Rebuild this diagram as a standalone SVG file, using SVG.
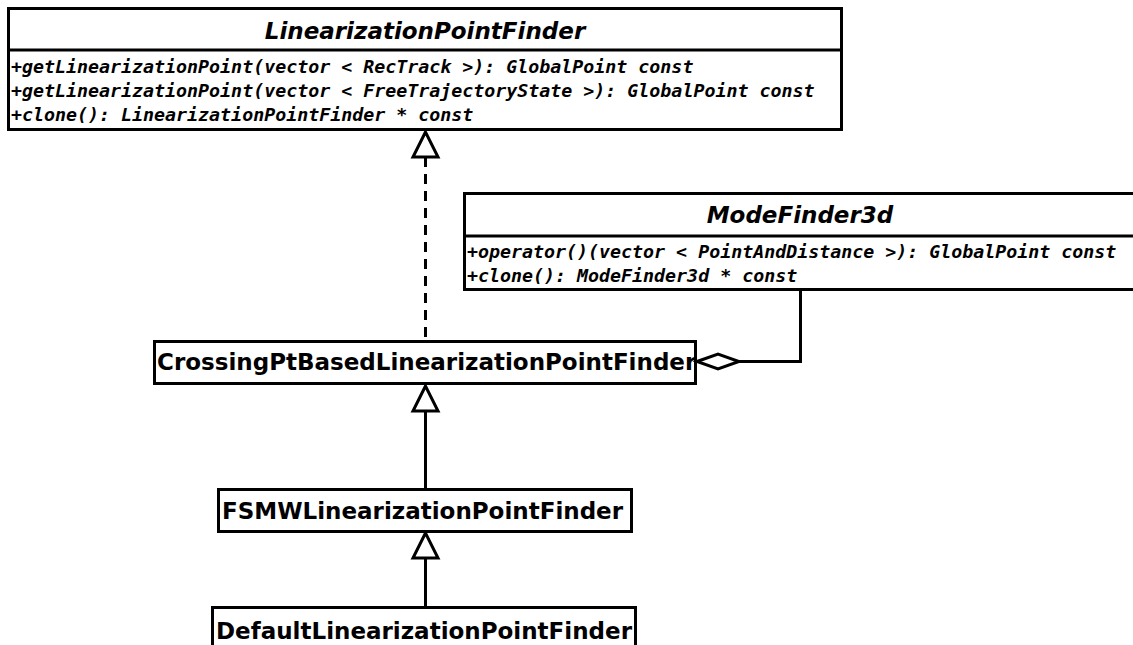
<svg xmlns="http://www.w3.org/2000/svg" width="1133" height="645" viewBox="0 0 1133 645">
<style>
.box{fill:#fff;stroke:#000;stroke-width:3}
.sep{stroke:#000;stroke-width:3}
.title{font-family:"DejaVu Sans",sans-serif;font-weight:bold;font-style:oblique;font-size:23px;text-anchor:middle}
.meth{font-family:"DejaVu Sans Mono",monospace;font-weight:bold;font-style:oblique;font-size:18.3px}
.cls{font-family:"DejaVu Sans",sans-serif;font-weight:bold;font-size:23px}
.ln{fill:none;stroke:#000;stroke-width:3}
.tri{fill:#fff;stroke:#000;stroke-width:3}
</style>
<g id="connectors">
<line class="ln" x1="425.5" y1="157" x2="425.5" y2="341" stroke-dasharray="10,7"/>
<polygon class="tri" points="425.5,132 413,157 438,157"/>
<line class="ln" x1="425.5" y1="411" x2="425.5" y2="489"/>
<polygon class="tri" points="425.5,386 413,411 438,411"/>
<line class="ln" x1="425.5" y1="557" x2="425.5" y2="607"/>
<polygon class="tri" points="425.5,533 413,558 438,558"/>
<polyline class="ln" points="800.5,290 800.5,361.5 739,361.5"/>
</g>
<g id="LinearizationPointFinder">
<rect class="box" x="8.5" y="8.5" width="833" height="121"/>
<line class="sep" x1="8.5" y1="50" x2="841.5" y2="50"/>
<text class="title" x="425" y="39">LinearizationPointFinder</text>
<text class="meth" x="11" y="73">+getLinearizationPoint(vector &lt; RecTrack &gt;): GlobalPoint const</text>
<text class="meth" x="11" y="97">+getLinearizationPoint(vector &lt; FreeTrajectoryState &gt;): GlobalPoint const</text>
<text class="meth" x="11" y="121">+clone(): LinearizationPointFinder * const</text>
</g>
<g id="ModeFinder3d">
<rect class="box" x="464.5" y="193.5" width="680" height="96"/>
<line class="sep" x1="464.5" y1="236" x2="1133" y2="236"/>
<text class="title" x="800" y="223">ModeFinder3d</text>
<text class="meth" x="467" y="258">+operator()(vector &lt; PointAndDistance &gt;): GlobalPoint const</text>
<text class="meth" x="467" y="282">+clone(): ModeFinder3d * const</text>
</g>
<g id="CrossingPtBasedLinearizationPointFinder">
<rect class="box" x="154.5" y="341.5" width="541" height="42"/>
<text class="cls" x="157" y="370">CrossingPtBasedLinearizationPointFinder</text>
</g>
<g id="FSMWLinearizationPointFinder">
<rect class="box" x="218.5" y="489.5" width="413" height="42"/>
<text class="cls" x="222" y="519">FSMWLinearizationPointFinder</text>
</g>
<g id="DefaultLinearizationPointFinder">
<rect class="box" x="212.5" y="607.5" width="423" height="50"/>
<text class="cls" x="216" y="639">DefaultLinearizationPointFinder</text>
</g>
<g id="aggregation">
<polygon class="tri" points="697,361.5 718,354 739,361.5 718,369"/>
</g>
</svg>
